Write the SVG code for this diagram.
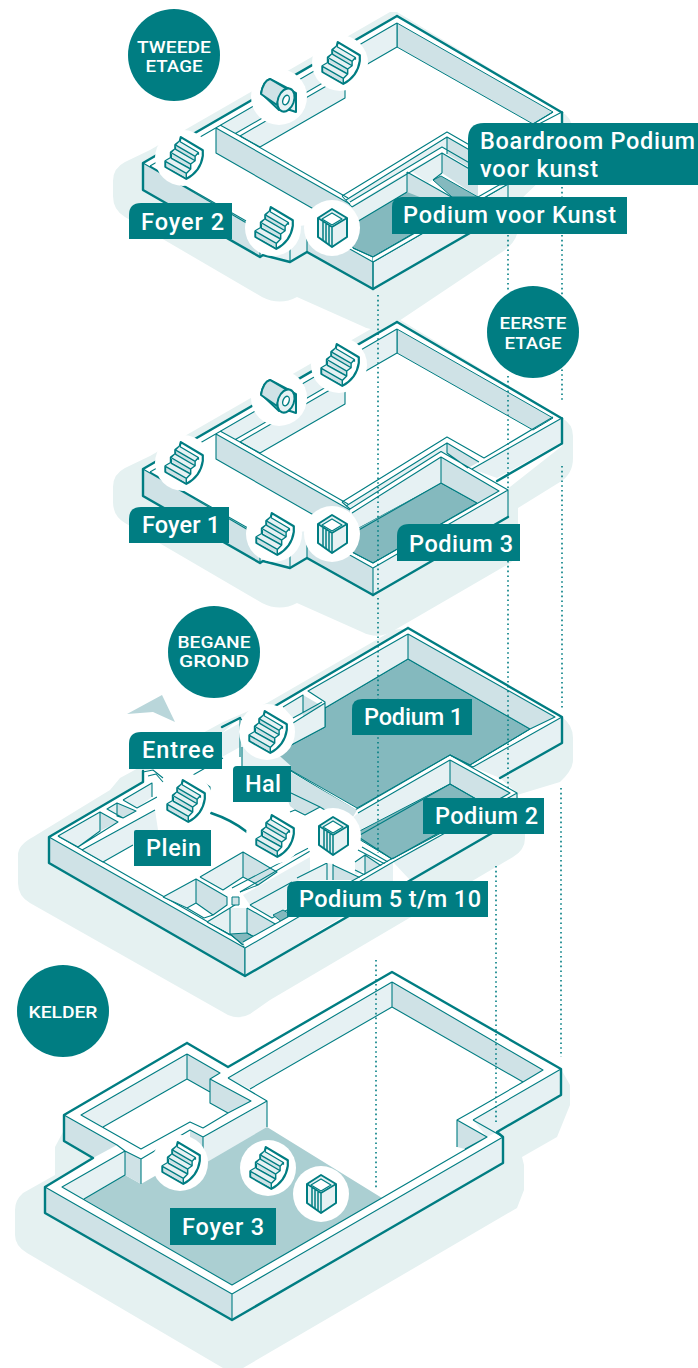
<svg xmlns="http://www.w3.org/2000/svg" xmlns:xlink="http://www.w3.org/1999/xlink" width="698" height="1368" viewBox="0 0 698 1368">
<style>
.s{fill:#e5f1f1;stroke:none}
.w{fill:#fff;stroke:none}
.l{fill:#e6f1f3;stroke:#007d82;stroke-width:1;stroke-linejoin:round}
.m{fill:#cfe2e6;stroke:#007d82;stroke-width:1;stroke-linejoin:round}
.lf{fill:#e6f1f3;stroke:none}
.mf{fill:#cfe2e6;stroke:none}
.p{fill:#84b9be;stroke:#007d82;stroke-width:1;stroke-linejoin:round}
.t{fill:none;stroke:#007d82;stroke-width:1.1;stroke-linejoin:round}
.k{fill:none;stroke:#007d82;stroke-width:2.4;stroke-linejoin:round;stroke-linecap:round}
.i{stroke:#007d82;stroke-width:2;stroke-linejoin:round;stroke-linecap:round}
.d{fill:none;stroke:#007d82;stroke-width:1.6;stroke-dasharray:1.6 3.2}
.b{fill:#007d82}
.n{font-family:Roboto,"Noto Sans",sans-serif;font-weight:500;font-size:23.5px;fill:#fff}
.c{font-family:Roboto,"Noto Sans",sans-serif;font-weight:500;font-size:17px;fill:#fff;text-anchor:middle}
</style>
<defs>
<g id="stair">
<circle r="28" fill="#fff"/>
<g transform="scale(1.1)">
<path class="i" fill="#fff" d="M-2-19L18-7V-2Q16 12 3 19L-16 8V3L-11 0V-5L-7-8V-12L-3-15Z"/>
<path fill="#e6f1f3" d="M-3-15L14-5L11 0L-7-11ZM-7-8L10 2L7 7L-11-4ZM-11 0L7 10L3 14L-16 3Z"/>
<path fill="#cfe2e6" d="M-15 4L3 15V18L-15 8ZM-10-4L7 6V9L-10-1ZM-6-11L11 0V2.500L-6-8Z"/>
<path fill="none" stroke="#007d82" stroke-width="1.3" stroke-linejoin="round" d="M-16 3L3 14V19M-11 0L7 10L3 14M-11-5L7 5.500V10M-7-8L11 2.500L7 5.500M-7-12L11-1.500V2.500M-3-15L14-5L11-1.500M14-5V-3"/>
</g>
</g>
<g id="lift">
<circle r="28" fill="#fff"/>
<path class="i" fill="#e6f1f3" d="M0-19L15-10V9L0 19L-14 9V-10Z"/>
<path fill="#fff" stroke="#007d82" stroke-width="1.3" stroke-linejoin="round" d="M0-15L10-9L0-3L-10-9Z"/>
<path fill="none" stroke="#007d82" stroke-width="1.5" d="M-14-10L0-1L15-10M0-1V19M-9-6V13M-6-4V15M-3-2V17"/>
</g>
<g id="wc">
<circle r="28" fill="#fff"/>
<path class="i" fill="#e6f1f3" d="M-9-18L10-8L17-4V15L11 13L0 13L-18-4Q-15-16-9-18Z"/>
<path class="i" fill="#cfe2e6" d="M-9-18L8-8Q0-4-2 8L-18-3Q-16-16-9-18Z"/>
<ellipse cx="7" cy="3" rx="8" ry="12" transform="rotate(20 7 3)" class="i" fill="#e6f1f3"/>
<ellipse cx="7" cy="3" rx="3" ry="5" transform="rotate(20 7 3)" fill="#fff" stroke="#007d82" stroke-width="1.4"/>
</g>
<g id="upper">
<path class="w" d="M397 16L562 113V140L373 289L307 252L290 262L260 257L143 190V163Z"/>
<path class="m" d="M397 23L553 112L533 124L397 47Z"/>
<path class="lf" d="M397 23V47L345 77V98L260 147L240 136L220 125Z"/>
<path class="w" d="M235.400 133.600L345 70V75.200L240 136Z"/>
<path class="t" d="M397 23V47L345 77M397 23L150 166M235.400 133.600L345 70M240 136L345 75.200M220 125L240 136L260 147L345 98V75.200"/>
<path class="mf" d="M216 128L350 204V230L216 153Z"/>
<path class="t" d="M216 128V153L345 227M216 128L350 204M240 136L348 198"/>
<path class="mf" d="M143 163L260 231V257L143 190Z"/>
<path class="lf" d="M260 231L307 225V252L290 262L260 257Z"/>
<path class="mf" d="M307 225L373 262V289L307 252Z"/>
<path class="t" d="M143 163L232 214.500L262 232M150 166L260 229M260 232V257M290 238V262M307 225V252"/>
<path class="t" d="M307 225L373 262"/>
<path class="k" d="M397 16L143 163V190L260 257L263 255L290 262L307 252L373 289"/>
<path class="k" d="M397 16L562 112.500"/>
</g>
</defs>

<g id="floor-2">
<path class="s" d="M397 12L562 112Q572 118 572 128V150L518 202V228Q518 240 505 250L393 325Q378 334 362 326L297 297Q280 306 262 297L125 217Q113 210 113 196V181Q113 168 125 162L150 150L390 12Z"/>
<use xlink:href="#upper" href="#upper"/>
<path class="p" d="M407 192L345 228L353 248L373 257L460 207L407 176Z" stroke="none"/>
<path class="lf" d="M346 200L447 137V150L442 147L350 202Z"/>
<path class="lf" d="M350 207L407 172V192L350 226Z"/>
<path class="lf" d="M410 170L442 153V173L433 180L428 183Z"/>
<path class="mf" d="M407 172L455 199L440 205L407 192Z"/>
<path class="mf" d="M442 153L478 174V197L442 173Z"/>
<path class="mf" d="M447 137L470 150V168L447 154Z"/>
<path class="p" d="M433 180L441 176L478 197L452 197Z"/>
<path class="lf" d="M373 262L508 184V211L373 289Z"/>
<path class="t" d="M342 196L447 132L480 151M346 200L447 137L480 156M342 196L352 207M350 202L442 147L480 169M352 207L442 153L478 174M407 172V192M442 153V173M447 137V154M407 172L455 199M407 192L350 226M353 248L373 257L445 215M373 262L508 184V211M373 257V262L373 289M433 180L442 173"/>
<path class="w" d="M373 257L499 185L508 184L373 262Z"/>
<path class="t" d="M373 257L499 185L508 184L373 262V289"/>
<path class="k" d="M373 289L508 211"/>
<path class="k" d="M562 112.500V125"/>
<path class="t" d="M553 112L533 124M562 112L537 125"/>
<use xlink:href="#stair" href="#stair" x="340" y="63"/>
<use xlink:href="#wc" href="#wc" x="279" y="97"/>
<use xlink:href="#stair" href="#stair" x="183" y="158"/>
<use xlink:href="#stair" href="#stair" x="273" y="228"/>
<use xlink:href="#lift" href="#lift" x="332" y="228"/>
</g>

<g id="floor-1">
<path class="s" d="M397 318L562 418Q573 424 573 436V458Q573 474 560 482L518 508V548Q518 560 505 566L393 631Q378 640 362 632L297 603Q280 612 262 603L125 523Q113 516 113 502V487Q113 474 125 468L150 456L390 318Z"/>
<use xlink:href="#upper" href="#upper" y="306"/>
<path class="w" d="M472 469L562 418V442L497 482L508 490V517L373 595V568L350 512L441 452Z"/>
<path class="lf" d="M472 469L562 418V442L497 478Z"/>
<path class="lf" d="M346 506L447 443V453L441 452L350 508Z"/>
<path class="mf" d="M447 443L479 462L468 468L447 453Z"/>
<path class="p" d="M441 483L477 503L373 563L352 552L345 535Z" stroke="none"/>
<path class="lf" d="M350 514L441 457V483L345 535Z"/>
<path class="mf" d="M441 457L499 491L477 503L441 483Z"/>
<path class="lf" d="M373 568L508 490V517L373 595Z"/>
<path class="t" d="M342 502L447 437L484 458L553 417M346 506L447 443L479 462M342 502L350 509L441 451.500L508 490L373 568M352 513L441 457L499 491L373 563L352 552M441 457V483L350 535M441 483L477 503M447 443V453L468 468M472 469L562 418M373 568V595M508 490V517"/>
<path class="k" d="M373 595L508 517M497 481L562 443.500V418.500"/>
<use xlink:href="#stair" href="#stair" x="339" y="365"/>
<use xlink:href="#wc" href="#wc" x="279" y="398"/>
<use xlink:href="#stair" href="#stair" x="183" y="463"/>
<use xlink:href="#stair" href="#stair" x="274" y="534"/>
<use xlink:href="#lift" href="#lift" x="332" y="534"/>
</g>

<g id="ground">
<path class="s" d="M33 837L110 790L120 778L223 722L267 703L390 632Q400 626 412 632L562 717Q573 725 573 738V760Q573 770 560 782L517 795L525 812V838Q525 850 513 857L270 1000L250 1014Q240 1020 228 1015L30 903Q18 896 18 883V855Q18 845 33 837Z"/>
<path class="w" d="M408 628L562 717V743L500 778L517 793V818L245 976L49 863V837L143 782V771L153 769L222 733L240 718L275 706Z"/>
<path class="p" d="M408 659L530 729L470 765L450 755L357 808L273 760L278 752L325 727V708Z" stroke="none"/>
<path class="lf" d="M408 634V659L325 708V703L308 691Z"/>
<path class="mf" d="M408 634L555 717L530 729L408 659Z"/>
<path class="lf" d="M473 767L562 717V743L500 778Z"/>
<path class="lf" d="M293 723L325 703V727L278 752L265 740Z"/>
<path class="mf" d="M303 695L322 706L303 717Z"/>
<path class="lf" d="M283 707L303 695V715L293 718Z"/>
<path class="t" d="M408 634L308 691L325 702V727L278 752M408 634V659L325 708M408 634L555 717L530 729L408 659M530 729L470 765M473 767L562 717M470 765L450 755L355 810L273 760M473 767L450 755M283 707L303 695V712M293 718L322 702M293 723L325 703"/>
<path class="lf" d="M358 813L450 760V784L360 835L340 830Z"/>
<path class="mf" d="M450 760L510 793L490 807L450 784Z"/>
<path class="p" d="M450 784L490 807L392 859L352 835Z" stroke="none"/>
<path class="lf" d="M393 862L517 793V818L410 880Z"/>
<path class="t" d="M450 755L517 793L393 862M450 760L510 793L392 859L360 838M450 760V784L360 835M450 784L490 807M358 813L450 760M517 793V818"/>
<path class="mf" d="M273 762L357 810L350 822L333 815L320 807L305 815L295 810L290 806Z"/>
<path class="lf" d="M240 723L273 750L291 766V790L242 768Z"/>
<path class="t" d="M242 747V766M291 793L320 807M290 812L295 810L305 815L320 807L333 815M193 775L210 787V800M193 775L223 758"/>
<path class="lf" d="M222 733L240 723V747L222 757Z"/>
<path class="t" d="M240 718V757M222 727L240 718L245 723"/>
<path class="mf" d="M49 837L245 948V976L49 863Z"/>
<path class="t" d="M49 837L245 948V976M58 836L243 942M143 772L153 770L163 778M148 776L156 774L163 782"/>
<path class="lf" d="M58 836L100 812V831L78 847Z"/>
<path class="mf" d="M100 812L118 822L100 831Z"/>
<path class="lf" d="M107 809L117 803V816L123 818Z"/>
<path class="mf" d="M117 803L136 811L123 818L117 816Z"/>
<path class="lf" d="M123 800L152 783V797L137 808Z"/>
<path class="lf" d="M82 850L155 810L158 830L133 845L103 862Z"/>
<path class="t" d="M58 836L100 812V831L78 847L58 836M100 812L118 822L78 847M107 809L117 803L136 811L123 818ZM117 803V816L123 818M123 800L152 783V797M123 800L137 808L157 797M82 850L155 810M82 850L103 862L133 845"/>
<path class="lf" d="M163 897L196 879V903L187 908Z"/>
<path class="mf" d="M196 879L227 897V905L213 915L196 903Z"/>
<path class="t" d="M163 897L196 879V903L187 908L163 897M196 879L227 897V905L213 915L196 903M187 908L204 918L213 915"/>
<path class="lf" d="M200 877L243 852V877L223 890Z"/>
<path class="mf" d="M243 852L277 872L258 885L243 877Z"/>
<path class="t" d="M200 877L243 852V877L223 890L200 877M243 852L277 872L258 885L243 877M240 892L258 885"/>
<path class="lf" d="M243 895L310 857V875L250 905Z"/>
<path class="t" d="M232 888L320 842M240 892L317 847"/>
<path class="lf" d="M207 922L230 908V933Z"/>
<path class="lf" d="M230 908H247V933H230Z"/>
<path class="mf" d="M247 908L277 925L256 938L247 933Z"/>
<path class="p" d="M230 934L247 933L256 938L243 945Z"/>
<path class="t" d="M207 922L230 908V934L243 945M207 922L230 935M230 908L238 903M247 908V933L256 938M247 908L277 925L243 947"/>
<path class="m" d="M232 897H239V905H232Z"/>
<path class="lf" d="M250 905L292 882V905L272 918Z"/>
<path class="t" d="M250 905L292 882M250 905L272 918L287 910"/>
<path class="p" d="M273 915L283 910L295 917L283 923Z"/>
<path class="lf" d="M297 878L327 863H333V880H300Z"/>
<path class="mf" d="M333 865L365 880H333Z"/>
<path class="t" d="M297 878L327 863M327 863V880M333 863V880M333 865L365 880"/>
<path class="lf" d="M355 862L365 855V870L355 875Z"/>
<path class="mf" d="M365 855L383 867L365 875Z"/>
<path class="t" d="M355 862L365 855L383 867L365 875L355 870M365 855V875M362 847L388 862M358 850L387 865"/>
<path class="lf" d="M245 948L393 862V886L245 976Z"/>
<path class="w" d="M243 942L393 859V862L245 948Z"/>
<path class="t" d="M245 948L393 862M243 942L393 858M245 948V976"/>
<path class="k" d="M245 976L517 818.500M245 976L49 863V837L143 782V771M408 628L275 706M408 628L562 717V743L500 778M222 727L240 718"/>
<path class="k" d="M211 813Q232 820 247 832"/>
<use xlink:href="#stair" href="#stair" x="267" y="732"/>
<use xlink:href="#stair" href="#stair" x="185" y="801"/>
<use xlink:href="#stair" href="#stair" x="274" y="836"/>
<use xlink:href="#lift" href="#lift" x="333" y="836"/>
<path fill="#b9d6da" d="M127 714L162 695L175 722L153 712Z"/>
</g>

<g id="basement">
<path class="s" d="M23 1193L55 1175V1147L64 1130L228 1080L392 1000L561 1069L570 1085V1105L557 1137L522 1157L524 1165V1190L517 1208L243 1368H223L27 1253Q15 1246 15 1235V1210Q15 1200 23 1193Z"/>
<path class="w" d="M187 1043L228 1067L392 972L561 1069V1095L497 1132L503 1137V1163L232 1320L45 1213V1187L93 1158L64 1141V1115Z"/>
<path fill="#abcfd2" d="M267 1127L382 1198L232 1285L84 1199L125 1175L141 1184L204 1148Z"/>
<path class="lf" d="M392 982V1007L250 1089L228 1078Z"/>
<path class="mf" d="M392 982L543 1070L523 1082L392 1007Z"/>
<path class="lf" d="M473 1120L561 1069V1095L497 1132L487 1137Z"/>
<path class="mf" d="M457 1120L487 1137L465 1149L457 1147Z"/>
<path class="lf" d="M232 1294L503 1137V1163L232 1320Z"/>
<path class="mf" d="M45 1187L232 1294V1320L45 1213Z"/>
<path class="lf" d="M81 1115L187 1054V1079L103 1127Z"/>
<path class="mf" d="M187 1054L220 1073L210 1079V1092L187 1079Z"/>
<path class="mf" d="M210 1079L251 1101L228 1113L210 1103Z"/>
<path class="lf" d="M203 1137L267 1101V1127L190 1172L190 1140Z"/>
<path class="mf" d="M190 1130L203 1137V1150L190 1158Z"/>
<path class="lf" d="M62 1187L125 1151V1175L84 1199Z"/>
<path class="mf" d="M125 1151L141 1159V1184L125 1175Z"/>
<path class="mf" d="M64 1115L117 1145L93 1158L64 1141Z"/>
<path class="t" d="M392 982L543 1070L523 1082L473 1111M473 1111L457 1120L487 1137L232 1285L62 1187L125 1151V1175L84 1199M392 982V1007L523 1082M392 982L228 1078M392 1007L250 1089M473 1120L561 1069M473 1120L503 1137L232 1294V1320M232 1294L45 1187M457 1120V1147M465 1149L487 1137M187 1054L81 1115L141 1149L190 1122L203 1128L228 1113M187 1054V1079L103 1127M187 1079L210 1092M187 1054L220 1073L210 1079V1103L228 1113L251 1101L210 1079M228 1078L267 1101V1127M203 1137L267 1101M64 1115L117 1145L125 1151L141 1159V1184M141 1159L190 1130L203 1137V1150"/>
<path class="k" d="M187 1043L64 1115V1141L93 1158M187 1043L228 1067L392 972L561 1069V1095L497 1132M93 1158L45 1187V1213L232 1320L503 1163V1137L497 1132"/>
<use xlink:href="#stair" href="#stair" x="180" y="1163"/>
<use xlink:href="#stair" href="#stair" x="268" y="1168"/>
<use xlink:href="#lift" href="#lift" x="321" y="1194"/>
</g>

<g id="connectors">
<path class="d" d="M378 295V592M378 598V853M376 960V1190M508 235V290M508 376V488M508 561V790M562 187V400M562 466V708M561 788V1057M496 866V1125"/>
</g>

<g id="label-tweede-etage"><circle class="b" cx="174" cy="55" r="46"/><text class="c" x="174" y="53" textLength="74" lengthAdjust="spacingAndGlyphs">TWEEDE</text><text class="c" x="174" y="72" textLength="57" lengthAdjust="spacingAndGlyphs">ETAGE</text></g>
<g id="label-eerste-etage"><circle class="b" cx="533" cy="332" r="46"/><text class="c" x="533" y="329" textLength="67" lengthAdjust="spacingAndGlyphs">EERSTE</text><text class="c" x="533" y="349" textLength="57" lengthAdjust="spacingAndGlyphs">ETAGE</text></g>
<g id="label-begane-grond"><circle class="b" cx="214" cy="652" r="46"/><text class="c" x="214" y="648" textLength="73" lengthAdjust="spacingAndGlyphs">BEGANE</text><text class="c" x="214" y="667" textLength="70" lengthAdjust="spacingAndGlyphs">GROND</text></g>
<g id="label-kelder"><circle class="b" cx="63" cy="1011" r="46"/><text class="c" x="63" y="1018" textLength="69" lengthAdjust="spacingAndGlyphs">KELDER</text></g>

<g id="label-foyer-2"><path class="b" d="M141 203H232V239H129V215Q129 203 141 203Z"/><text class="n" x="141" y="230" textLength="83">Foyer 2</text></g>
<g id="label-boardroom"><path class="b" d="M484 123H698V185H468V139Q468 123 484 123Z"/><text class="n" x="480" y="149" textLength="215">Boardroom Podium</text><text class="n" x="480" y="177" textLength="118">voor kunst</text></g>
<g id="label-podium-voor-kunst"><path class="b" d="M402 197H627V234H392V207Q392 197 402 197Z"/><text class="n" x="403" y="223" textLength="213">Podium voor Kunst</text></g>
<g id="label-foyer-1"><path class="b" d="M141 507H229V543H129V519Q129 507 141 507Z"/><text class="n" x="142" y="533" textLength="78">Foyer 1</text></g>
<g id="label-podium-3"><path class="b" d="M409 524H520V561H397V536Q397 524 409 524Z"/><text class="n" x="409" y="552" textLength="104">Podium 3</text></g>
<g id="label-entree"><path class="b" d="M141 732H222V769H129V744Q129 732 141 732Z"/><text class="n" x="142" y="758" textLength="72">Entree</text></g>
<g id="label-hal"><path class="b" d="M237 766H291V802H233V770Q233 766 237 766Z"/><text class="n" x="245" y="792" textLength="36">Hal</text></g>
<g id="label-plein"><path class="b" d="M136 830H211V866H134V832Q134 830 136 830Z"/><text class="n" x="146" y="856" textLength="55">Plein</text></g>
<g id="label-podium-1"><path class="b" d="M362 699H472V735H352V709Q352 699 362 699Z"/><text class="n" x="364" y="725" textLength="99">Podium 1</text></g>
<g id="label-podium-2"><path class="b" d="M426 798H544V834H423V801Q423 798 426 798Z"/><text class="n" x="435" y="824" textLength="103">Podium 2</text></g>
<g id="label-podium-5-10"><path class="b" d="M297 881H488V917H287V891Q287 881 297 881Z"/><text class="n" x="299" y="907" textLength="182">Podium 5 t/m 10</text></g>
<g id="label-foyer-3"><rect class="b" x="170" y="1208" width="106" height="37"/><text class="n" x="182" y="1235" textLength="82">Foyer 3</text></g>
</svg>
